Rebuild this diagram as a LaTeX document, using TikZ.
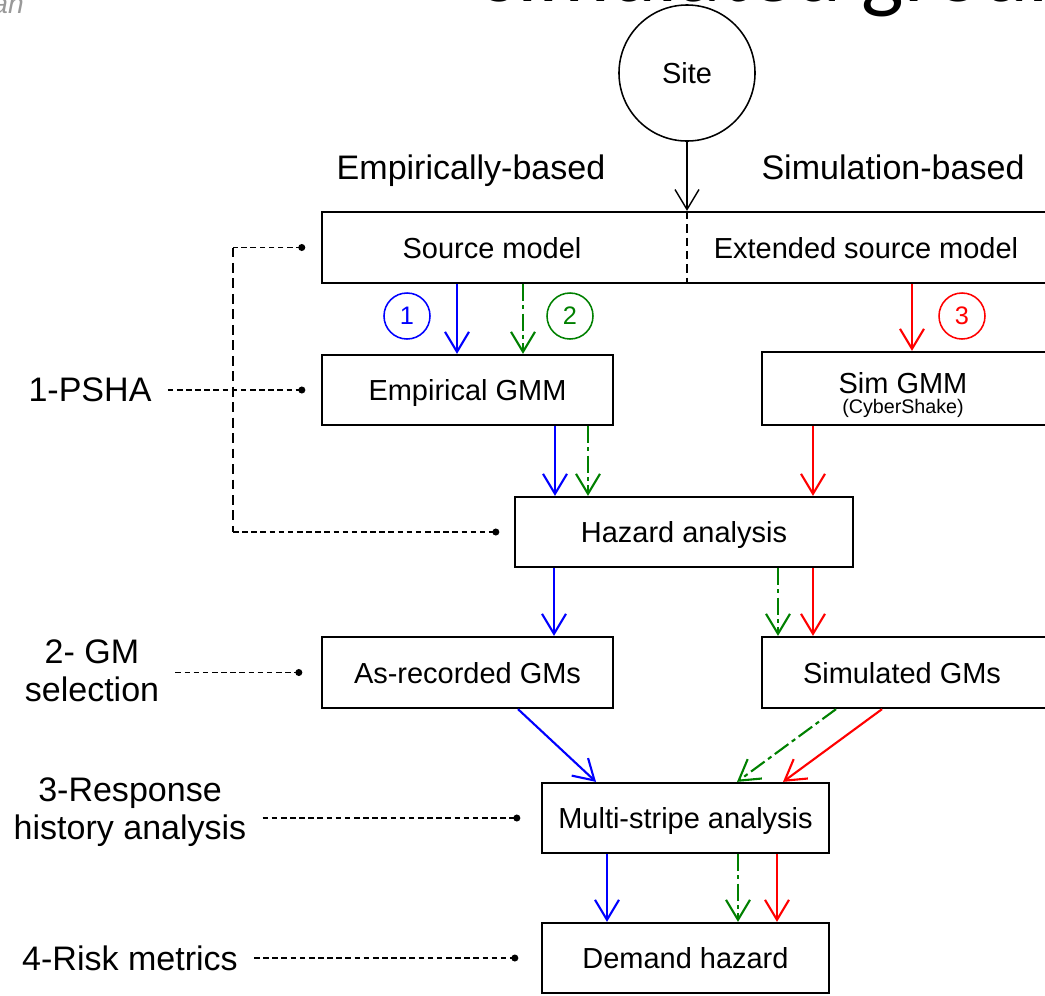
\documentclass[tikz,border=0pt]{standalone}
\usepackage{fontspec}
\setmainfont{Liberation Sans}
\newfontfamily\slidefont{Carlito}
\usetikzlibrary{arrows.meta,calc,positioning}
\definecolor{gmgreen}{RGB}{0,128,0}

\begin{document}
\begin{tikzpicture}[x=0.025cm,y=-0.025cm,
  >={Straight Barb[length=0.5cm,width=0.6cm]},
  boxtxt/.style={font=\fontsize{20.6}{24}\selectfont,text height=15pt,text depth=0pt},
  stage/.style={boxtxt,draw,line width=1.6pt,minimum height=1.75cm,inner sep=0pt},
  steplbl/.style={font=\fontsize{24.2}{27}\selectfont,align=center,inner sep=0.4cm},
  head/.style={font=\fontsize{24.2}{29}\selectfont,anchor=base},
  lead/.style={line width=1.1pt,dash pattern=on 4pt off 2.5pt},
  flow/.style={->,line width=1.5pt},
  emp/.style={flow,blue},
  hyb/.style={flow,gmgreen,dash pattern=on 12pt off 3pt on 3pt off 3pt},
  sim/.style={flow,red},
  tag/.style={circle,draw,line width=1.1pt,minimum size=1.15cm,inner sep=0pt,font=\fontsize{18}{20}\selectfont}]
  \useasboundingbox (0,0) rectangle (1045,995);
  \clip (0,0) rectangle (1045,995);

  % remains of the slide
  \node[anchor=base west,inner sep=0,font=\slidefont\fontsize{64}{70}\selectfont] (ttl) at (482,1) {simulated ground};
  \node[anchor=base east,inner sep=0,text=gray!80,font=\itshape\fontsize{20}{22}\selectfont] (crn) at (24,13) {an};

  \node[circle,draw,line width=1.1pt,minimum size=3.4cm,inner sep=0,boxtxt] (site) at (687,73) {Site};
  \node[head] (emphd) at (471,179) {Empirically-based};
  \node[head] (simhd) at (893,179) {Simulation-based};

  \node[stage,minimum width=18.45cm,minimum height=1.775cm] (src) at (691,247.5) {};
  \node[boxtxt] (srcl) at (492,248) {Source model};
  \node[boxtxt] (srcr) at (866,248) {Extended source model};
  \node[stage,minimum width=7.275cm] (egmm) at (467.5,390) {Empirical GMM};
  \node[stage,minimum width=7.45cm,minimum height=1.825cm] (sgmm) at (911,388.5) {};
  \node[boxtxt] (sgmmt) at (903,383) {Sim GMM};
  \node[font=\fontsize{14}{16}\selectfont] (sgmmc) at (903,408) {(CyberShake)};
  \node[stage,minimum width=8.45cm] (hz) at (684,532) {Hazard analysis};
  \node[stage,minimum width=7.275cm,minimum height=1.775cm] (rec) at (467.5,672.5) {As-recorded GMs};
  \node[stage,minimum width=7.45cm,minimum height=1.775cm] (simgm) at (911,672.5) {};
  \node[boxtxt] (simgmt) at (902,672.5) {Simulated GMs};
  \node[stage,minimum width=7.175cm] (msa) at (685.5,818) {Multi-stripe analysis};
  \node[stage,minimum width=7.175cm] (dh) at (685.5,958) {Demand hazard};

  \node[steplbl] (psha) at (90,390) {1-PSHA};
  \node[steplbl] (gmsel) at (92,671) {2- GM\\selection};
  \node[steplbl] (rha) at (130,812) {3-Response\\history analysis};
  \node[steplbl] (risk) at (130,958) {4-Risk metrics};

  \coordinate (d0) at ([xshift=-0.475cm]src.west);
  \coordinate (d1) at ([xshift=-0.475cm]egmm.west);
  \coordinate (d5) at ([xshift=-0.45cm]hz.west);
  \coordinate (d2) at ([xshift=-0.55cm]rec.west);
  \coordinate (d3) at ([xshift=-0.6cm]msa.west);
  \coordinate (d4) at ([xshift=-0.65cm]dh.west);
  \coordinate (bk) at (233,0);

  \draw[lead] (psha) -- (d1);
  \draw[lead] (gmsel.east |- d2) -- (d2);
  \draw[lead] (rha.east |- d3) -- (d3);
  \draw[lead] (risk.east |- d4) -- (d4);
  \draw[lead] (d0) -- (d0 -| bk);
  \draw[lead,dash pattern=on 7pt off 4pt] (d0 -| bk) -- (d5 -| bk);
  \draw[lead] (d5 -| bk) -- (d5);
  \foreach \d in {d0,d1,d2,d3,d4,d5}
    \fill (\d) circle (2.5pt);

  \draw[->,line width=1pt] (site) -- (site |- src.north);
  \draw[line width=1.2pt,dash pattern=on 6pt off 3.5pt] (site |- src.north) -- (site |- src.south);

  \node[tag,draw=blue,text=blue] (t1) at (407,316) {1};
  \node[tag,draw=gmgreen,text=gmgreen] (t2) at (570,316) {2};
  \node[tag,draw=red,text=red] (t3) at (962,316) {3};

  \draw[emp] (src.south -| 457,0) -- (egmm.north -| 457,0);
  \draw[hyb] (src.south -| 523,0) -- (egmm.north -| 523,0);
  \draw[sim] (src.south -| 912,0) -- (sgmm.north -| 912,0);
  \draw[emp] (egmm.south -| 555,0) -- (hz.north -| 555,0);
  \draw[hyb] (egmm.south -| 588,0) -- (hz.north -| 588,0);
  \draw[sim] (sgmm.south -| 813,0) -- (hz.north -| 813,0);
  \draw[emp] (hz.south -| 554,0) -- (rec.north -| 554,0);
  \draw[hyb] (hz.south -| 778,0) -- (simgm.north -| 778,0);
  \draw[sim] (hz.south -| 813,0) -- (simgm.north -| 813,0);
  \draw[emp] (rec.south -| 518,0) -- (msa.north -| 596,0);
  \draw[hyb] (simgm.south -| 836,0) -- (msa.north -| 737,0);
  \draw[sim] (simgm.south -| 882,0) -- (msa.north -| 783,0);
  \draw[emp] (msa.south -| 607,0) -- (dh.north -| 607,0);
  \draw[hyb] (msa.south -| 738,0) -- (dh.north -| 738,0);
  \draw[sim] (msa.south -| 777,0) -- (dh.north -| 777,0);
\end{tikzpicture}
\end{document}
